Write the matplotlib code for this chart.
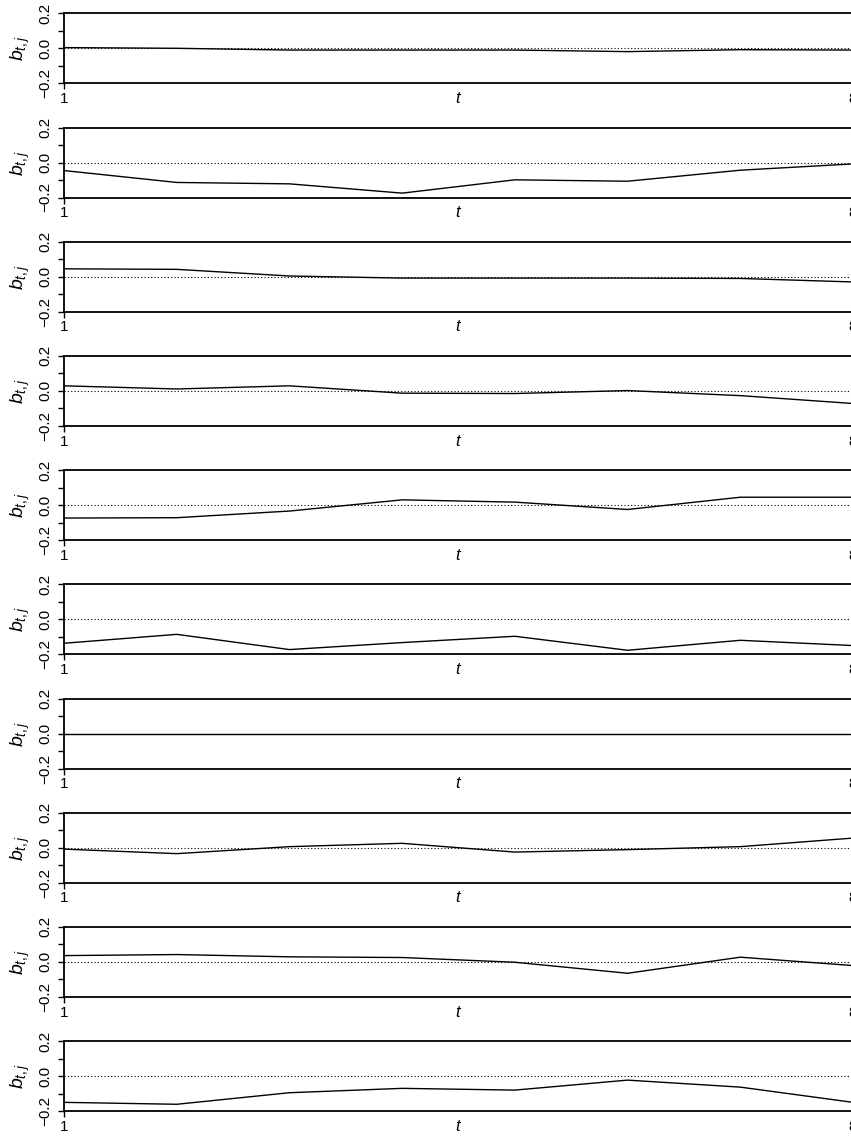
import numpy as np
import matplotlib.pyplot as plt

plt.rcParams['font.family'] = ['Liberation Sans', 'DejaVu Sans']
plt.rcParams['mathtext.fontset'] = 'custom'
plt.rcParams['mathtext.it'] = 'Liberation Sans:italic'
plt.rcParams['mathtext.rm'] = 'Liberation Sans'

# time index and the ten coefficient paths b_{t,j}
t = np.arange(1, 9)
b1 = [0.004, 0.0, -0.010, -0.010, -0.010, -0.019, -0.008, -0.010]
b2 = [-0.046, -0.114, -0.122, -0.175, -0.099, -0.107, -0.044, -0.008]
b3 = [0.045, 0.042, 0.004, -0.008, -0.008, -0.008, -0.010, -0.030]
b4 = [0.029, 0.011, 0.029, -0.013, -0.015, 0.002, -0.027, -0.072]
b5 = [-0.074, -0.072, -0.034, 0.030, 0.017, -0.025, 0.045, 0.045]
b6 = [-0.137, -0.086, -0.173, -0.133, -0.097, -0.177, -0.120, -0.150]
b7 = [0.0, 0.0, 0.0, 0.0, 0.0, 0.0, 0.0, 0.0]
b8 = [-0.008, -0.034, 0.006, 0.025, -0.025, -0.011, 0.006, 0.055]
b9 = [0.036, 0.042, 0.029, 0.025, -0.002, -0.065, 0.027, -0.021]
b10 = [-0.150, -0.161, -0.095, -0.070, -0.080, -0.023, -0.063, -0.150]
panels = [b1, b2, b3, b4, b5, b6, b7, b8, b9, b10]

yticks = [-0.2, -0.1, 0.0, 0.1, 0.2]
yticklabels = ["\u22120.2", "", "0.0", "", "0.2"]
xticks = [1, 8]
xticklabels = ["1", "8"]

W, H = 851, 1137
fig = plt.figure(figsize=(W / 100, H / 100), dpi=100)

x0, x1 = 64, 853
ph = 70.0
for k, b in enumerate(panels):
    top = 13.3 + 114.2 * k
    ax = fig.add_axes([x0 / W, 1 - (top + ph) / H, (x1 - x0) / W, ph / H])
    ax.plot(t, b, color="black", lw=1.0)
    ax.axhline(0, color="black", lw=0.8, ls=(0, (1, 2)))
    ax.set_xlim(1, 8)
    ax.set_ylim(-0.2, 0.2)
    ax.spines["right"].set_visible(False)
    for s in ["left", "top", "bottom"]:
        ax.spines[s].set_linewidth(1.3)
    ax.set_yticks(yticks)
    ax.set_yticklabels(yticklabels, rotation=90, va="center")
    ax.set_xticks(xticks)
    ax.set_xticklabels(xticklabels)
    ax.tick_params(axis="both", length=4.3, width=1.0, labelsize=11)
    ax.tick_params(axis="y", pad=4)
    ax.tick_params(axis="x", pad=2)
    ax.text(0.5, -15.2 / ph, "$t$", transform=ax.transAxes,
            ha="center", va="center", fontsize=12)
    ax.text((20 - x0) / (x1 - x0), 0.5, "$b_{t,j}$", transform=ax.transAxes,
            ha="center", va="center", rotation=90, fontsize=14)

fig.savefig("out.png", dpi=100)
